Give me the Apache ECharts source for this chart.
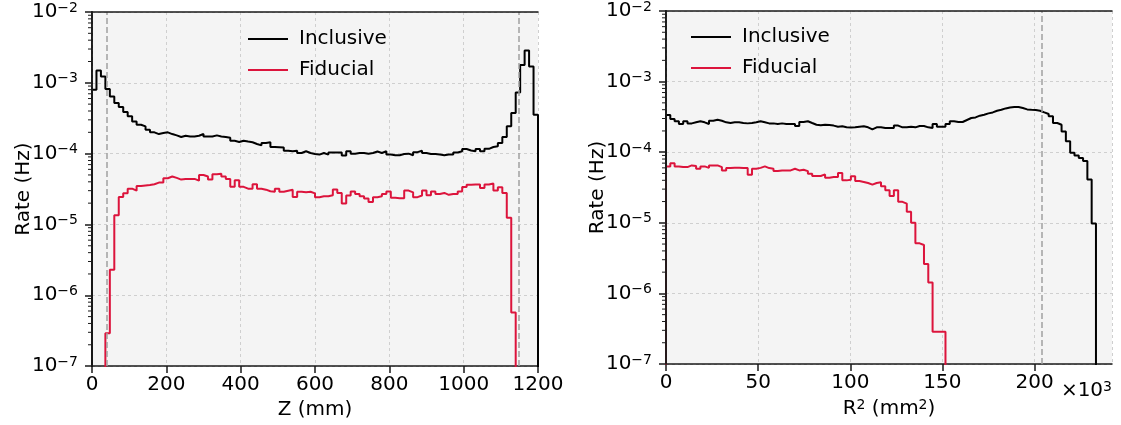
<!DOCTYPE html>
<html>
<head>
<meta charset="utf-8">
<script src="https://cdn.jsdelivr.net/npm/echarts@6/dist/echarts.min.js"></script>
<style>
  html, body { margin: 0; padding: 0; background: #fff; }
  #chart { width: 1121px; height: 425px; }
</style>
</head>
<body>
<div id="chart"></div>
<script>
// Z histogram: 100 bins of 12 mm from 0 to 1200
const zBinWidth = 12
const zInclusive = [
  7.96e-4, 1.49e-3, 1.23e-3, 8.2e-4, 6.4e-4, 5.17e-4, 4.54e-4, 3.86e-4, 3.36e-4, 2.85e-4,
  2.56e-4, 2.43e-4, 2.18e-4, 2.0e-4, 1.89e-4, 1.95e-4, 2.0e-4, 1.89e-4, 1.81e-4, 1.72e-4,
  1.79e-4, 1.75e-4, 1.75e-4, 1.79e-4, 1.89e-4, 1.75e-4, 1.75e-4, 1.81e-4, 1.75e-4, 1.72e-4,
  1.68e-4, 1.52e-4, 1.46e-4, 1.52e-4, 1.48e-4, 1.45e-4, 1.37e-4, 1.31e-4, 1.41e-4, 1.45e-4,
  1.24e-4, 1.23e-4, 1.22e-4, 1.10e-4, 1.08e-4, 1.10e-4, 1.02e-4, 1.08e-4, 1.02e-4, 9.9e-5,
  9.7e-5, 1.02e-4, 9.7e-5, 1.04e-4, 1.04e-4, 1.04e-4, 9.4e-5, 1.08e-4, 1.0e-4, 1.02e-4,
  1.02e-4, 1.0e-4, 1.02e-4, 1.07e-4, 1.02e-4, 1.08e-4, 9.7e-5, 9.5e-5, 9.5e-5, 9.9e-5,
  1.0e-4, 9.5e-5, 1.05e-4, 1.10e-4, 1.02e-4, 9.9e-5, 9.9e-5, 9.7e-5, 9.5e-5, 9.7e-5,
  9.7e-5, 1.04e-4, 1.08e-4, 1.16e-4, 1.11e-4, 1.08e-4, 1.16e-4, 1.08e-4, 1.17e-4, 1.24e-4,
  1.27e-4, 1.41e-4, 1.72e-4, 2.43e-4, 3.74e-4, 7.3e-4, 1.79e-3, 2.85e-3, 1.70e-3, 3.54e-4
]
const zFiducial = [
  0, 0, 0, 2.9e-7, 2.3e-6, 1.35e-5, 2.45e-5, 2.75e-5, 3.2e-5, 3.0e-5,
  3.5e-5, 3.55e-5, 3.6e-5, 3.7e-5, 3.9e-5, 3.9e-5, 4.5e-5, 4.75e-5, 4.55e-5, 4.3e-5,
  4.4e-5, 4.4e-5, 4.4e-5, 4.15e-5, 5.0e-5, 4.75e-5, 4.3e-5, 5.1e-5, 5.2e-5, 4.75e-5,
  4.4e-5, 3.4e-5, 4.2e-5, 3.4e-5, 3.2e-5, 3.2e-5, 3.7e-5, 3.2e-5, 3.1e-5, 2.95e-5,
  2.9e-5, 3.2e-5, 2.9e-5, 3.0e-5, 3.1e-5, 2.45e-5, 2.9e-5, 2.85e-5, 2.9e-5, 2.75e-5,
  2.43e-5, 2.5e-5, 2.5e-5, 2.59e-5, 3.11e-5, 2.79e-5, 1.98e-5, 2.56e-5, 2.93e-5, 2.7e-5,
  2.5e-5, 2.32e-5, 2.08e-5, 2.43e-5, 2.5e-5, 2.7e-5, 2.93e-5, 2.38e-5, 2.35e-5, 2.35e-5,
  3.01e-5, 2.84e-5, 2.43e-5, 2.56e-5, 3.01e-5, 2.59e-5, 2.93e-5, 2.7e-5, 2.79e-5, 2.62e-5,
  2.7e-5, 2.7e-5, 2.92e-5, 3.39e-5, 3.63e-5, 3.66e-5, 3.66e-5, 3.28e-5, 3.66e-5, 3.78e-5,
  3.01e-5, 3.36e-5, 2.79e-5, 1.24e-5, 5.7e-7, 0, 0, 0, 0, 0
]
const zCuts = [40, 1148]

// R^2 histogram (x10^3 mm^2): 100 bins
const rBinWidth = 2.333
const rInclusive = [
  3.36e-4, 2.95e-4, 2.74e-4, 2.51e-4, 2.74e-4, 2.56e-4, 2.65e-4, 2.74e-4, 2.65e-4, 2.51e-4,
  2.79e-4, 2.89e-4, 2.79e-4, 2.65e-4, 2.59e-4, 2.65e-4, 2.65e-4, 2.59e-4, 2.56e-4, 2.59e-4,
  2.65e-4, 2.74e-4, 2.65e-4, 2.56e-4, 2.56e-4, 2.51e-4, 2.56e-4, 2.51e-4, 2.51e-4, 2.51e-4,
  2.35e-4, 2.68e-4, 2.74e-4, 2.59e-4, 2.45e-4, 2.40e-4, 2.45e-4, 2.43e-4, 2.38e-4, 2.30e-4,
  2.33e-4, 2.25e-4, 2.23e-4, 2.25e-4, 2.30e-4, 2.33e-4, 2.25e-4, 2.11e-4, 2.25e-4, 2.25e-4,
  2.20e-4, 2.20e-4, 2.20e-4, 2.38e-4, 2.25e-4, 2.25e-4, 2.30e-4, 2.25e-4, 2.35e-4, 2.35e-4,
  2.25e-4, 2.20e-4, 2.51e-4, 2.30e-4, 2.30e-4, 2.51e-4, 2.74e-4, 2.68e-4, 2.68e-4, 2.86e-4,
  3.05e-4, 3.11e-4, 3.29e-4, 3.40e-4, 3.55e-4, 3.66e-4, 3.87e-4, 3.99e-4, 4.17e-4, 4.31e-4,
  4.36e-4, 4.36e-4, 4.22e-4, 4.04e-4, 3.99e-4, 3.95e-4, 3.87e-4, 3.66e-4, 3.47e-4, 3.22e-4,
  2.59e-4, 2.45e-4, 1.96e-4, 1.43e-4, 9.8e-5, 9.0e-5, 8.3e-5, 7.5e-5, 4.12e-5, 9.8e-6
]
const rFiducial = [
  6.29e-5, 7.0e-5, 6.29e-5, 6.15e-5, 6.15e-5, 6.5e-5, 6.36e-5, 5.83e-5, 6.29e-5, 6.0e-5,
  6.5e-5, 6.5e-5, 6.15e-5, 5.52e-5, 5.96e-5, 6.0e-5, 6.0e-5, 5.96e-5, 5.96e-5, 4.8e-5,
  5.83e-5, 6.0e-5, 6.29e-5, 5.96e-5, 5.83e-5, 5.4e-5, 5.52e-5, 5.52e-5, 5.52e-5, 5.83e-5,
  5.52e-5, 5.65e-5, 5.4e-5, 4.96e-5, 4.6e-5, 4.6e-5, 4.85e-5, 4.36e-5, 4.45e-5, 4.45e-5,
  5.07e-5, 3.99e-5, 4.08e-5, 4.55e-5, 3.91e-5, 3.79e-5, 3.66e-5, 3.47e-5, 3.66e-5, 3.74e-5,
  3.29e-5, 2.89e-5, 2.4e-5, 2.89e-5, 1.98e-5, 1.87e-5, 1.43e-5, 1.0e-5, 5.12e-6, 4.85e-6,
  2.6e-6, 1.43e-6, 2.86e-7, 2.86e-7, 2.86e-7, 0, 0, 0, 0, 0,
  0, 0, 0, 0, 0, 0, 0, 0, 0, 0,
  0, 0, 0, 0, 0, 0, 0, 0, 0, 0,
  0, 0, 0, 0, 0, 0, 0, 0, 0, 0
]
const rCuts = [204]

const minorTicks = [
  2e-7, 3e-7, 4e-7, 5e-7, 6e-7, 7e-7, 8e-7, 9e-7,
  2e-6, 3e-6, 4e-6, 5e-6, 6e-6, 7e-6, 8e-6, 9e-6,
  2e-5, 3e-5, 4e-5, 5e-5, 6e-5, 7e-5, 8e-5, 9e-5,
  2e-4, 3e-4, 4e-4, 5e-4, 6e-4, 7e-4, 8e-4, 9e-4,
  2e-3, 3e-3, 4e-3, 5e-3, 6e-3, 7e-3, 8e-3, 9e-3
]

const FONT = 'DejaVu Sans'
const RED = '#dc143c'
const INK = '#1a1a1a'
// empty bins sit below the axis minimum, so the step line drops to the bottom
const FLOOR = 1e-9

function stepData(width, values) {
  const pts = [[0, FLOOR]]
  values.forEach((v, i) => pts.push([i * width, v > 0 ? v : FLOOR]))
  const last = values[values.length - 1]
  pts.push([values.length * width, last > 0 ? last : FLOOR])
  pts.push([values.length * width, FLOOR])
  return pts
}

const supRich = {
  b: { fontSize: 20, fontFamily: FONT, color: '#000', lineHeight: 22 },
  s: { fontSize: 14, fontFamily: FONT, color: '#000', lineHeight: 14, verticalAlign: 'top' }
}

function logLabel(v) {
  const e = Math.round(Math.log10(v))
  return '{b|10}{s|' + (e < 0 ? '\u2212' : '') + Math.abs(e) + '}'
}

const gridLine = { show: true, lineStyle: { color: '#cfcfcf', width: 1, type: [3, 3] } }
const spine = { show: true, lineStyle: { color: INK, width: 1.5 } }
const tick = { show: true, length: 7, lineStyle: { color: INK, width: 1.5 } }

function xAxisOf(idx, max, interval, name) {
  return {
    type: 'value', gridIndex: idx, min: 0, max: max, interval: interval, z: 2,
    name: name, nameLocation: 'middle', nameGap: 30,
    nameTextStyle: { fontSize: 20, fontFamily: FONT, color: '#000', rich: supRich },
    axisLine: spine, axisTick: tick,
    axisLabel: {
      fontSize: 20, fontFamily: FONT, color: '#000', margin: 9,
      showMaxLabel: max % interval === 0,
      formatter: v => String(v)
    },
    splitLine: gridLine
  }
}

function yAxisOf(idx) {
  return {
    type: 'log', logBase: 10, gridIndex: idx, min: 1e-7, max: 1e-2, z: 1,
    name: 'Rate (Hz)', nameLocation: 'middle', nameGap: 58, nameMoveOverlap: false,
    nameTextStyle: { fontSize: 20, fontFamily: FONT, color: '#000' },
    axisLine: spine, axisTick: tick,
    axisLabel: { formatter: logLabel, rich: supRich, margin: 14 },
    splitLine: gridLine
  }
}

// frame spines drawn over the grid lines
function frameX(idx, max) {
  return { type: 'value', gridIndex: idx, position: 'top', min: 0, max: max, z: 6,
    axisLine: spine, axisTick: { show: false }, axisLabel: { show: false }, splitLine: { show: false } }
}
function frameY(idx, pos) {
  return { type: 'log', gridIndex: idx, position: pos, min: 1e-7, max: 1e-2, z: 6,
    axisLine: spine, axisTick: { show: false }, axisLabel: { show: false }, splitLine: { show: false } }
}

function histSeries(name, idx, width, values, color, cuts) {
  const s = {
    name: name, type: 'line', step: 'end', xAxisIndex: idx, yAxisIndex: idx,
    data: stepData(width, values), symbol: 'none', showSymbol: false, clip: true,
    lineStyle: { color: color, width: 2 }, itemStyle: { color: color },
    emphasis: { disabled: true }, z: 3
  }
  if (cuts) {
    s.markLine = {
      silent: true, symbol: 'none', label: { show: false },
      lineStyle: { color: '#a0a0a0', width: 1.5, type: [6, 3] },
      data: cuts.map(c => ({ xAxis: c }))
    }
  }
  return s
}

function minorTickSeries(idx) {
  return {
    type: 'custom', xAxisIndex: idx, yAxisIndex: idx, silent: true, z: 5,
    data: minorTicks.map(v => [0, v]),
    renderItem: function (params, api) {
      const p = api.coord([api.value(0), api.value(1)])
      return {
        type: 'line',
        shape: { x1: p[0] - 4, y1: p[1], x2: p[0], y2: p[1] },
        style: { stroke: INK, lineWidth: 1 }
      }
    }
  }
}

const legendOf = (left, top) => ({
  left: left, top: top, orient: 'vertical', icon: 'rect',
  itemWidth: 40, itemHeight: 2, itemGap: 9,
  data: ['Inclusive', 'Fiducial'],
  textStyle: { fontSize: 20, fontFamily: FONT, color: '#000', lineHeight: 22, padding: [0, 0, 0, 6] }
})

const chart = echarts.init(document.getElementById('chart'), null, { renderer: 'canvas' })
chart.setOption({
  animation: false,
  backgroundColor: '#fff',
  grid: [
    { left: 92, top: 12, width: 446, height: 355, show: true, backgroundColor: '#f4f4f4', borderWidth: 0 },
    { left: 666, top: 10, width: 446, height: 354, show: true, backgroundColor: '#f4f4f4', borderWidth: 0 }
  ],
  legend: [legendOf(243, 23), legendOf(686, 21)],
  xAxis: [
    xAxisOf(0, 1200, 200, 'Z (mm)'),
    xAxisOf(1, 242, 50, '{b|R}{s|2}{b| (mm}{s|2}{b|)}'),
    frameX(0, 1200),
    frameX(1, 242)
  ],
  yAxis: [yAxisOf(0), yAxisOf(1), frameY(0, 'right'), frameY(1, 'right'), frameY(0, 'left'), frameY(1, 'left')],
  graphic: [{
    type: 'text', right: 9, top: 380,
    style: { text: '{b|\u00d710}{s|3}', rich: supRich }
  }],
  series: [
    histSeries('Inclusive', 0, zBinWidth, zInclusive, '#000', zCuts),
    histSeries('Fiducial', 0, zBinWidth, zFiducial, RED),
    histSeries('Inclusive', 1, rBinWidth, rInclusive, '#000', rCuts),
    histSeries('Fiducial', 1, rBinWidth, rFiducial, RED),
    minorTickSeries(0),
    minorTickSeries(1)
  ]
})
</script>
</body>
</html>
